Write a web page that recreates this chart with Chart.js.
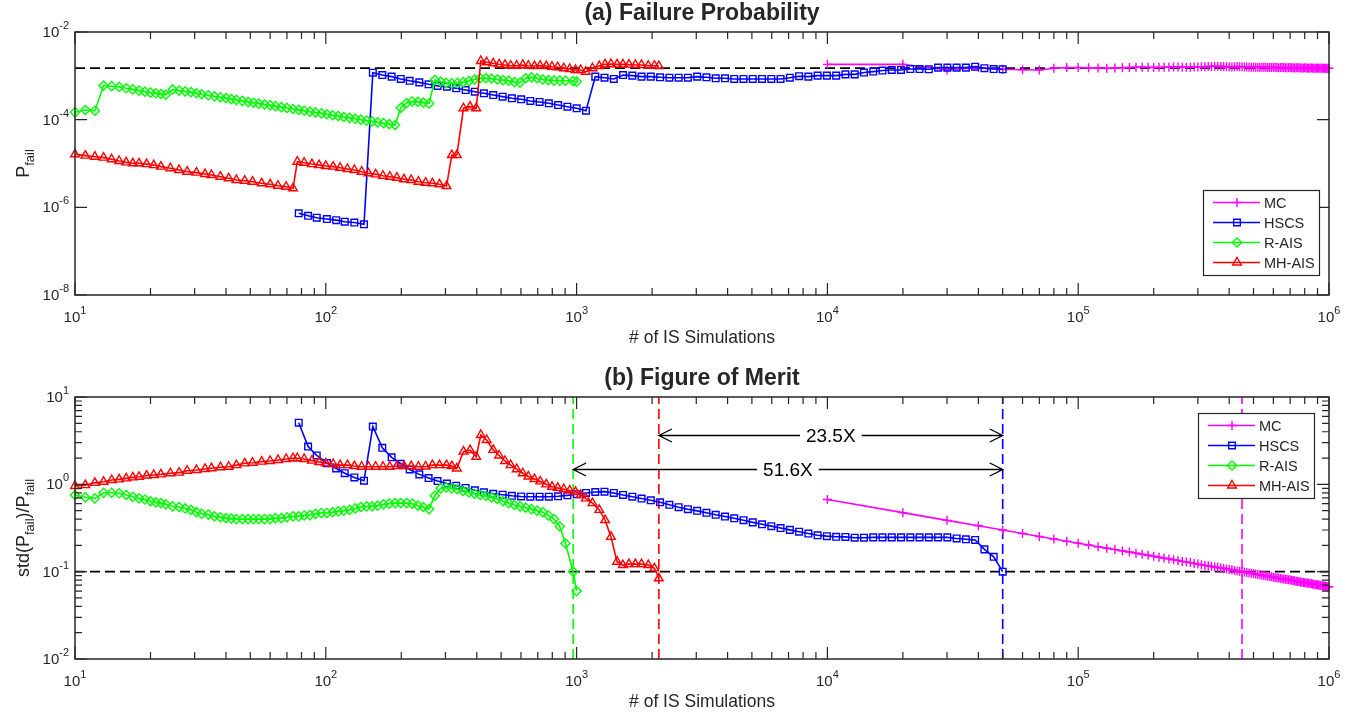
<!DOCTYPE html>
<html>
<head>
<meta charset="utf-8">
<script src="https://cdn.jsdelivr.net/npm/chart.js@4.4.0/dist/chart.umd.min.js"></script>
<style>
  html, body { margin: 0; padding: 0; background: #fff; }
  #wrap { position: relative; width: 1367px; height: 717px; }
  canvas { position: absolute; left: 0; }
  #pfail { top: 0; }
  #fom { top: 358px; }
</style>
</head>
<body>
<div id="wrap">
  <canvas id="pfail" width="1367" height="358"></canvas>
  <canvas id="fom" width="1367" height="359"></canvas>
</div>
<script>
// ---- values ----
const mcRuns = [10000, 20000, 30000, 40000, 50000, 60000, 70000, 80000, 90000, 100000,
  110000, 120000, 130000, 140000, 150000, 160000, 170000, 180000, 190000, 200000,
  210000, 220000, 230000, 240000, 250000, 260000, 270000, 280000, 290000, 300000,
  310000, 320000, 330000, 340000, 350000, 360000, 370000, 380000, 390000, 400000,
  410000, 420000, 430000, 440000, 450000, 460000, 470000, 480000, 490000, 500000,
  510000, 520000, 530000, 540000, 550000, 560000, 570000, 580000, 590000, 600000,
  610000, 620000, 630000, 640000, 650000, 660000, 670000, 680000, 690000, 700000,
  710000, 720000, 730000, 740000, 750000, 760000, 770000, 780000, 790000, 800000,
  810000, 820000, 830000, 840000, 850000, 860000, 870000, 880000, 890000, 900000,
  910000, 920000, 930000, 940000, 950000, 960000, 970000, 980000, 990000, 1000000];
const mcPfail = [1.83e-3, 1.83e-3, 1.36e-3, 1.54e-3, 1.41e-3, 1.38e-3, 1.36e-3, 1.49e-3, 1.54e-3, 1.54e-3,
  1.52e-3, 1.50e-3, 1.48e-3, 1.50e-3, 1.53e-3, 1.55e-3, 1.57e-3, 1.58e-3, 1.56e-3, 1.55e-3,
  1.56e-3, 1.57e-3, 1.58e-3, 1.60e-3, 1.59e-3, 1.58e-3, 1.57e-3, 1.58e-3, 1.59e-3, 1.60e-3,
  1.61e-3, 1.62e-3, 1.63e-3, 1.64e-3, 1.66e-3, 1.65e-3, 1.64e-3, 1.63e-3, 1.62e-3, 1.61e-3,
  1.60e-3, 1.62e-3, 1.63e-3, 1.62e-3, 1.61e-3, 1.60e-3, 1.59e-3, 1.58e-3, 1.57e-3, 1.58e-3,
  1.57e-3, 1.56e-3, 1.55e-3, 1.56e-3, 1.57e-3, 1.56e-3, 1.55e-3, 1.54e-3, 1.55e-3, 1.56e-3,
  1.55e-3, 1.54e-3, 1.53e-3, 1.54e-3, 1.55e-3, 1.54e-3, 1.53e-3, 1.52e-3, 1.53e-3, 1.54e-3,
  1.53e-3, 1.52e-3, 1.51e-3, 1.52e-3, 1.53e-3, 1.52e-3, 1.51e-3, 1.50e-3, 1.51e-3, 1.52e-3,
  1.51e-3, 1.50e-3, 1.49e-3, 1.50e-3, 1.51e-3, 1.50e-3, 1.49e-3, 1.48e-3, 1.49e-3, 1.50e-3,
  1.49e-3, 1.48e-3, 1.49e-3, 1.50e-3, 1.49e-3, 1.48e-3, 1.47e-3, 1.48e-3, 1.49e-3, 1.48e-3];
const mcFom = [0.670, 0.474, 0.387, 0.335, 0.300, 0.274, 0.253, 0.237, 0.223, 0.212,
  0.202, 0.193, 0.186, 0.179, 0.173, 0.168, 0.163, 0.158, 0.154, 0.150,
  0.146, 0.143, 0.140, 0.137, 0.134, 0.131, 0.129, 0.127, 0.124, 0.122,
  0.120, 0.118, 0.117, 0.115, 0.113, 0.112, 0.110, 0.109, 0.107, 0.106,
  0.105, 0.103, 0.102, 0.101, 0.0999, 0.0988, 0.0977, 0.0967, 0.0957, 0.0948,
  0.0938, 0.0929, 0.0920, 0.0912, 0.0903, 0.0895, 0.0887, 0.0880, 0.0872, 0.0865,
  0.0858, 0.0851, 0.0844, 0.0838, 0.0831, 0.0825, 0.0819, 0.0813, 0.0807, 0.0801,
  0.0795, 0.0790, 0.0784, 0.0779, 0.0774, 0.0769, 0.0764, 0.0759, 0.0754, 0.0749,
  0.0744, 0.0740, 0.0735, 0.0731, 0.0727, 0.0722, 0.0718, 0.0714, 0.0710, 0.0706,
  0.0702, 0.0699, 0.0695, 0.0691, 0.0687, 0.0684, 0.0680, 0.0677, 0.0673, 0.0670];

const hscsRuns = [78, 85, 92, 101, 110, 119, 130, 142, 154, 168,
  183, 199, 216, 236, 257, 279, 304, 331, 361, 393,
  427, 465, 507, 552, 601, 654, 712, 775, 844, 919,
  1001, 1090, 1187, 1292, 1407, 1532, 1668, 1816, 1977, 2152,
  2344, 2552, 2778, 3025, 3294, 3586, 3905, 4251, 4629, 5040,
  5488, 5975, 6505, 7083, 7712, 8397, 9142, 9954, 10838, 11800,
  12848, 13989, 15231, 16583, 18056, 19659, 21405, 23305, 25375, 27628,
  30081, 32752, 35660, 38826, 42274, 46027, 50000];
const hscsPfail = [7.3e-7, 6.4e-7, 5.8e-7, 5.4e-7, 5.1e-7, 4.7e-7, 4.5e-7, 4.1e-7,
  1.18e-3, 1.04e-3, 9.6e-4, 8.5e-4, 7.7e-4, 7.1e-4, 6.4e-4, 5.9e-4, 5.65e-4, 5.2e-4,
  4.75e-4, 4.35e-4, 4.0e-4, 3.65e-4, 3.35e-4, 3.07e-4, 2.92e-4, 2.67e-4, 2.53e-4, 2.36e-4,
  2.16e-4, 1.98e-4, 1.82e-4, 1.6e-4,
  9.6e-4, 9.05e-4, 8.5e-4, 1.04e-3, 1.01e-3, 9.6e-4, 9.6e-4, 9.25e-4, 9.05e-4, 9.05e-4,
  9.05e-4, 9.6e-4, 9.25e-4, 8.8e-4, 8.8e-4, 8.5e-4, 8.5e-4, 8.5e-4, 8.5e-4, 8.5e-4,
  8.5e-4, 9.05e-4, 9.8e-4,
  9.6e-4, 1.01e-3, 1.01e-3, 1.01e-3, 1.08e-3, 1.08e-3, 1.19e-3, 1.25e-3, 1.32e-3, 1.36e-3,
  1.36e-3, 1.43e-3, 1.43e-3, 1.41e-3, 1.54e-3, 1.54e-3, 1.54e-3, 1.54e-3, 1.62e-3, 1.49e-3,
  1.43e-3, 1.41e-3];
const hscsFom = [5.08, 2.71, 2.14, 1.75, 1.52, 1.34, 1.20, 1.10,
  4.59, 2.62, 2.04, 1.72, 1.48, 1.30, 1.18, 1.09,
  1.02, 0.965, 0.908, 0.855, 0.81, 0.78, 0.76, 0.74,
  0.726, 0.722, 0.722, 0.722, 0.73, 0.748, 0.77, 0.796,
  0.817, 0.824, 0.796, 0.755, 0.722, 0.688, 0.656, 0.622,
  0.583, 0.547, 0.519, 0.497, 0.472, 0.448, 0.428, 0.408,
  0.388, 0.367, 0.349, 0.332, 0.316, 0.301, 0.287, 0.273,
  0.261, 0.255, 0.251, 0.250, 0.245, 0.245, 0.247, 0.247,
  0.247, 0.247, 0.247, 0.247, 0.247, 0.247, 0.247, 0.24,
  0.235, 0.231, 0.18, 0.148, 0.1];

const raisRuns = [10, 11, 12, 13, 14, 15, 16, 17, 18, 19,
  20, 21, 22, 23, 24.5, 26, 27.5, 29, 30.5, 32,
  34, 36, 38, 40, 42, 44, 46.5, 49, 51.5, 54,
  57, 60, 63, 66.5, 70, 74, 78, 82, 86.5, 91,
  96, 101, 106.5, 112, 118, 124.5, 131, 138, 145.5, 153,
  161, 170, 179, 189, 199, 210, 221, 233, 245, 258,
  272, 287, 302, 318, 335, 353, 372, 392, 413, 435,
  458, 483, 509, 536, 565, 595, 627, 661, 696, 733,
  772, 813, 857, 903, 969, 1000];
const raisPfail = [1.47e-4, 1.66e-4, 1.6e-4, 6.0e-4, 5.8e-4, 5.6e-4, 5.2e-4, 4.9e-4, 4.6e-4, 4.35e-4,
  4.15e-4, 4.0e-4, 3.85e-4, 3.7e-4, 4.9e-4, 4.6e-4, 4.4e-4, 4.25e-4, 4.0e-4, 3.8e-4,
  3.6e-4, 3.4e-4, 3.25e-4, 3.1e-4, 2.95e-4, 2.82e-4, 2.68e-4, 2.55e-4, 2.43e-4, 2.33e-4,
  2.22e-4, 2.12e-4, 2.03e-4, 1.93e-4, 1.85e-4, 1.75e-4, 1.67e-4, 1.6e-4, 1.52e-4, 1.46e-4,
  1.39e-4, 1.33e-4, 1.26e-4, 1.21e-4, 1.15e-4, 1.1e-4, 1.05e-4, 1.0e-4, 9.5e-5, 9.1e-5,
  8.7e-5, 8.3e-5, 7.9e-5, 7.55e-5, 1.85e-4, 2.4e-4, 2.6e-4, 2.55e-4, 2.45e-4, 2.35e-4,
  8.0e-4, 7.35e-4, 6.9e-4, 6.76e-4, 6.85e-4, 7.2e-4, 7.6e-4, 8.25e-4, 8.8e-4, 8.8e-4,
  8.7e-4, 8.25e-4, 8.0e-4, 7.75e-4, 7.2e-4, 7.0e-4, 8.8e-4, 9.25e-4, 8.8e-4, 8.25e-4,
  8.0e-4, 7.8e-4, 7.75e-4, 7.75e-4, 7.6e-4, 7.35e-4];
const raisFom = [0.755, 0.71, 0.69, 0.80, 0.80, 0.79, 0.755, 0.72, 0.69, 0.67,
  0.64, 0.62, 0.61, 0.59, 0.56, 0.55, 0.53, 0.51, 0.48, 0.46,
  0.45, 0.43, 0.42, 0.41, 0.405, 0.40, 0.40, 0.40, 0.40, 0.40,
  0.40, 0.40, 0.41, 0.41, 0.42, 0.43, 0.43, 0.44, 0.445, 0.46,
  0.47, 0.47, 0.48, 0.49, 0.50, 0.51, 0.53, 0.55, 0.56, 0.56,
  0.57, 0.59, 0.60, 0.61, 0.61, 0.61, 0.60, 0.57, 0.55, 0.52,
  0.74, 0.90, 0.92, 0.90, 0.88, 0.84, 0.81, 0.78, 0.755, 0.74,
  0.71, 0.68, 0.64, 0.61, 0.58, 0.56, 0.54, 0.52, 0.50, 0.48,
  0.44, 0.40, 0.33, 0.21, 0.10, 0.06];

const mhRuns = [10, 11, 12, 13, 14, 15, 16, 17, 18, 19.3,
  20.6, 22, 24, 26, 28, 30.5, 33, 35, 38, 41,
  44, 47.5, 51, 55.5, 60, 64.5, 69.5, 74,
  77, 82, 88, 94, 100, 107, 114, 122, 130, 139,
  148, 158, 169, 180, 192, 205, 219, 234, 250, 266,
  284, 303,
  318, 333, 354, 376, 398, 415, 438, 465, 491, 518,
  546, 577, 610, 642, 679, 716, 757, 798, 841, 889,
  939, 990, 1038, 1088, 1157, 1231, 1299, 1371, 1450, 1529,
  1617, 1716, 1814, 1931, 2043, 2128];
const mhPfail = [1.62e-5, 1.51e-5, 1.43e-5, 1.36e-5, 1.25e-5, 1.14e-5, 1.06e-5, 1.01e-5, 1.01e-5, 9.7e-6,
  9.2e-6, 8.5e-6, 7.8e-6, 7.1e-6, 6.5e-6, 6.2e-6, 5.75e-6, 5.46e-6, 5.0e-6, 4.6e-6,
  4.2e-6, 4.05e-6, 3.84e-6, 3.53e-6, 3.35e-6, 3.11e-6, 2.95e-6, 2.72e-6,
  1.1e-5, 1.04e-5, 9.7e-6, 9.2e-6, 8.8e-6, 8.5e-6, 8.0e-6, 7.5e-6, 7.1e-6, 6.5e-6,
  5.97e-6, 5.66e-6, 5.26e-6, 5.0e-6, 4.74e-6, 4.36e-6, 4.2e-6, 3.84e-6, 3.65e-6, 3.53e-6,
  3.35e-6, 3.06e-6,
  1.56e-5, 1.56e-5, 1.82e-4, 1.98e-4, 1.82e-4, 2.18e-3, 2.04e-3, 1.93e-3, 1.83e-3, 1.77e-3,
  1.70e-3, 1.70e-3, 1.77e-3, 1.70e-3, 1.67e-3, 1.70e-3, 1.67e-3, 1.61e-3, 1.57e-3, 1.49e-3,
  1.43e-3, 1.36e-3, 1.36e-3, 1.24e-3, 1.49e-3, 1.67e-3, 1.83e-3, 1.86e-3, 1.83e-3, 1.83e-3,
  1.80e-3, 1.77e-3, 1.77e-3, 1.70e-3, 1.70e-3, 1.67e-3];
const mhFom = [0.957, 0.98, 1.04, 1.07, 1.12, 1.14, 1.17, 1.20, 1.22, 1.26,
  1.28, 1.30, 1.34, 1.36, 1.43, 1.46, 1.50, 1.53, 1.57, 1.59,
  1.66, 1.74, 1.77, 1.82, 1.85, 1.90, 1.95, 1.99,
  1.99, 1.95, 1.87, 1.80, 1.74, 1.71, 1.66, 1.66, 1.62, 1.59,
  1.59, 1.59, 1.59, 1.59, 1.62, 1.62, 1.62, 1.59, 1.60, 1.66,
  1.66, 1.66,
  1.62, 1.52, 2.37, 2.47, 2.07, 3.67, 3.22, 2.48, 2.14, 1.85,
  1.66, 1.49, 1.34, 1.23, 1.15, 1.08, 1.0, 0.94, 0.91, 0.88,
  0.85, 0.82, 0.755, 0.69, 0.61, 0.51, 0.39, 0.25, 0.13, 0.119,
  0.122, 0.122, 0.122, 0.119, 0.109, 0.084];

const pfailTrue = 1.5e-3;
const fomTarget = 0.1;
// run counts where each method reaches the target accuracy
const targetRuns = [450000, 50000, 969, 2128];
const speedupLabels = ['23.5X', '51.6X'];
const speedupFrom = [2128, 969];
const speedupTo = [50000, 50000];
const speedupLevel = [3.67, 1.5];

const xTickExps = [1, 2, 3, 4, 5, 6];
const pfailTickExps = [-2, -4, -6, -8];
const fomTickExps = [1, 0, -1, -2];

const methods = ['MC', 'HSCS', 'R-AIS', 'MH-AIS'];
const colors = ['#ff00ff', '#0000ff', '#00ff00', '#ff0000'];
const markers = ['cross', 'rect', 'rectRot', 'triangle'];
const markerSize = [4.5, 4.7, 4.6, 5.0];

// ---- drawing helpers ----
const FONT = "'Liberation Sans', Arial, Helvetica, sans-serif";
const INK = '#262626';

function series(i, runs, vals) {
  return {
    label: methods[i],
    data: runs.map((x, k) => ({ x, y: vals[k] })),
    borderColor: colors[i],
    backgroundColor: colors[i],
    borderWidth: 1.6,
    pointStyle: markers[i],
    pointRadius: markerSize[i],
    pointBorderColor: colors[i],
    pointBackgroundColor: 'rgba(0,0,0,0)',
    pointBorderWidth: 1.4,
    tension: 0,
    clip: 10,
  };
}

function refLine(points, color) {
  return {
    data: points,
    borderColor: color,
    borderWidth: 1.6,
    borderDash: [10, 5],
    pointRadius: 0,
    tension: 0,
    clip: 2,
  };
}

function powLabel(ctx, e, x, y, align) {
  const base = '10', exp = String(e);
  ctx.font = '15px ' + FONT;
  const wb = ctx.measureText(base).width;
  ctx.font = '11px ' + FONT;
  const we = ctx.measureText(exp).width;
  const x0 = align === 'center' ? x - (wb + we) / 2 : x - (wb + we);
  ctx.textAlign = 'left';
  ctx.textBaseline = 'middle';
  ctx.font = '15px ' + FONT;
  ctx.fillText(base, x0, y);
  ctx.font = '11px ' + FONT;
  ctx.fillText(exp, x0 + wb, y - 7);
}

function richText(ctx, parts, cx, baseline, size) {
  let total = 0;
  for (const [t, sub] of parts) {
    ctx.font = (sub ? size * 0.72 : size) + 'px ' + FONT;
    total += ctx.measureText(t).width;
  }
  let x = cx - total / 2;
  ctx.textAlign = 'left';
  ctx.textBaseline = 'alphabetic';
  for (const [t, sub] of parts) {
    ctx.font = (sub ? size * 0.72 : size) + 'px ' + FONT;
    ctx.fillText(t, x, baseline + (sub ? size * 0.3 : 0));
    x += ctx.measureText(t).width;
  }
}

function marker(ctx, i, x, y) {
  ctx.strokeStyle = colors[i];
  ctx.fillStyle = 'rgba(0,0,0,0)';
  ctx.lineWidth = 1.4;
  Chart.helpers.drawPoint(ctx, { pointStyle: markers[i], rotation: 0, radius: markerSize[i], borderWidth: 1.4 }, x, y);
}

function drawLegend(ctx, left, top) {
  ctx.save();
  ctx.fillStyle = '#fff';
  ctx.fillRect(left, top, 116, 85);
  ctx.strokeStyle = INK;
  ctx.lineWidth = 1.2;
  ctx.strokeRect(left + 0.5, top + 0.5, 116, 85);
  methods.forEach((name, i) => {
    const y = top + 12.5 + i * 20;
    ctx.strokeStyle = colors[i];
    ctx.lineWidth = 1.6;
    ctx.setLineDash([]);
    ctx.beginPath();
    ctx.moveTo(left + 10, y);
    ctx.lineTo(left + 57, y);
    ctx.stroke();
    marker(ctx, i, left + 34, y);
    ctx.fillStyle = INK;
    ctx.font = '14.5px ' + FONT;
    ctx.textAlign = 'left';
    ctx.textBaseline = 'middle';
    ctx.fillText(name, left + 61, y + 1);
  });
  ctx.restore();
}

function axesPlugin(spec) {
  return {
    id: 'axes_' + spec.key,
    afterDatasetsDraw(chart) {
      const { ctx, chartArea: a, scales: { x, y } } = chart;
      ctx.save();
      ctx.strokeStyle = INK;
      ctx.fillStyle = INK;
      ctx.lineWidth = 1.2;
      ctx.setLineDash([]);
      ctx.beginPath();
      for (let e = 1; e <= 6; e++) {
        const p = x.getPixelForValue(Math.pow(10, e));
        ctx.moveTo(p, a.bottom); ctx.lineTo(p, a.bottom - 12);
        ctx.moveTo(p, a.top); ctx.lineTo(p, a.top + 12);
        if (e < 6) {
          for (let m = 2; m <= 9; m++) {
            const q = x.getPixelForValue(m * Math.pow(10, e));
            ctx.moveTo(q, a.bottom); ctx.lineTo(q, a.bottom - 7);
            ctx.moveTo(q, a.top); ctx.lineTo(q, a.top + 7);
          }
        }
      }
      for (const e of spec.yExps) {
        const p = y.getPixelForValue(Math.pow(10, e));
        ctx.moveTo(a.left, p); ctx.lineTo(a.left + 12, p);
        ctx.moveTo(a.right, p); ctx.lineTo(a.right - 12, p);
        if (spec.yMinor && e > spec.yExps[spec.yExps.length - 1] - 1 && e < spec.yExps[0]) {
          for (let m = 2; m <= 9; m++) {
            const q = y.getPixelForValue(m * Math.pow(10, e));
            ctx.moveTo(a.left, q); ctx.lineTo(a.left + 7, q);
            ctx.moveTo(a.right, q); ctx.lineTo(a.right - 7, q);
          }
        }
      }
      ctx.stroke();
      ctx.lineWidth = 1.5;
      ctx.strokeRect(a.left, a.top, a.right - a.left, a.bottom - a.top);

      // tick labels
      for (const e of xTickExps) powLabel(ctx, e, x.getPixelForValue(Math.pow(10, e)), a.bottom + 23, 'center');
      for (const e of spec.yExps) powLabel(ctx, e, a.left - 6, y.getPixelForValue(Math.pow(10, e)) + 1, 'right');

      // title and axis labels
      const cx = (a.left + a.right) / 2;
      ctx.font = 'bold 23px ' + FONT;
      ctx.textAlign = 'center';
      ctx.textBaseline = 'middle';
      ctx.fillText(spec.title, cx, a.top - 18);
      ctx.font = '17.5px ' + FONT;
      ctx.fillText('# of IS Simulations', cx, a.bottom + 43);

      ctx.save();
      ctx.translate(29, (a.top + a.bottom) / 2);
      ctx.rotate(-Math.PI / 2);
      richText(ctx, spec.yLabel, 0, 0, 18);
      ctx.restore();

      drawLegend(ctx, spec.legend[0], spec.legend[1]);
      if (spec.arrows) drawArrows(chart);
      ctx.restore();
    }
  };
}

function arrowHead(ctx, x, y, dir) {
  ctx.moveTo(x - dir * 13, y - 6.5);
  ctx.lineTo(x, y);
  ctx.lineTo(x - dir * 13, y + 6.5);
}

function drawArrows(chart) {
  const { ctx, scales: { x, y } } = chart;
  ctx.save();
  ctx.strokeStyle = '#000';
  ctx.fillStyle = '#000';
  ctx.lineWidth = 1.3;
  ctx.font = '19px ' + FONT;
  ctx.textAlign = 'center';
  ctx.textBaseline = 'middle';
  speedupLabels.forEach((label, i) => {
    const x1 = x.getPixelForValue(speedupFrom[i]);
    const x2 = x.getPixelForValue(speedupTo[i]);
    const py = Math.round(y.getPixelForValue(speedupLevel[i])) + 0.5;
    const mid = (x1 + x2) / 2;
    const half = ctx.measureText(label).width / 2 + 6;
    ctx.beginPath();
    ctx.moveTo(x1, py); ctx.lineTo(mid - half, py);
    ctx.moveTo(mid + half, py); ctx.lineTo(x2, py);
    arrowHead(ctx, x1, py, -1);
    arrowHead(ctx, x2, py, 1);
    ctx.stroke();
    ctx.fillText(label, mid, py + 1);
  });
  ctx.restore();
}

const baseOptions = (yMin, yMax, pad) => ({
  responsive: false,
  animation: false,
  events: [],
  layout: { padding: pad },
  plugins: { legend: { display: false }, tooltip: { enabled: false }, title: { display: false } },
  scales: {
    x: { type: 'logarithmic', min: 10, max: 1e6, display: false },
    y: { type: 'logarithmic', min: yMin, max: yMax, display: false },
  },
});

// ---- (a) failure probability ----
new Chart(document.getElementById('pfail'), {
  type: 'line',
  data: {
    datasets: [
      series(3, mhRuns, mhPfail),
      series(2, raisRuns, raisPfail),
      series(1, hscsRuns, hscsPfail),
      series(0, mcRuns, mcPfail),
      refLine([{ x: 10, y: pfailTrue }, { x: 1e6, y: pfailTrue }], '#000'),
    ],
  },
  options: baseOptions(1e-8, 1e-2, { left: 75, right: 38, top: 32, bottom: 63 }),
  plugins: [axesPlugin({
    key: 'a', title: '(a) Failure Probability', yExps: pfailTickExps, yMinor: false,
    yLabel: [['P', false], ['fail', true]], legend: [1203, 190], arrows: false,
  })],
});

// ---- (b) figure of merit ----
new Chart(document.getElementById('fom'), {
  type: 'line',
  data: {
    datasets: [
      series(3, mhRuns, mhFom),
      series(2, raisRuns, raisFom),
      series(1, hscsRuns, hscsFom),
      series(0, mcRuns, mcFom),
      refLine([{ x: 10, y: fomTarget }, { x: 1e6, y: fomTarget }], '#000'),
      refLine([{ x: targetRuns[0], y: 0.01 }, { x: targetRuns[0], y: 10 }], colors[0]),
      refLine([{ x: targetRuns[1], y: 0.01 }, { x: targetRuns[1], y: 10 }], colors[1]),
      refLine([{ x: targetRuns[2], y: 0.01 }, { x: targetRuns[2], y: 10 }], colors[2]),
      refLine([{ x: targetRuns[3], y: 0.01 }, { x: targetRuns[3], y: 10 }], colors[3]),
    ],
  },
  options: baseOptions(0.01, 10, { left: 75, right: 38, top: 39, bottom: 58 }),
  plugins: [axesPlugin({
    key: 'b', title: '(b) Figure of Merit', yExps: fomTickExps, yMinor: true,
    yLabel: [['std(P', false], ['fail', true], [')/P', false], ['fail', true]],
    legend: [1198, 55], arrows: true,
  })],
});
</script>
</body>
</html>
